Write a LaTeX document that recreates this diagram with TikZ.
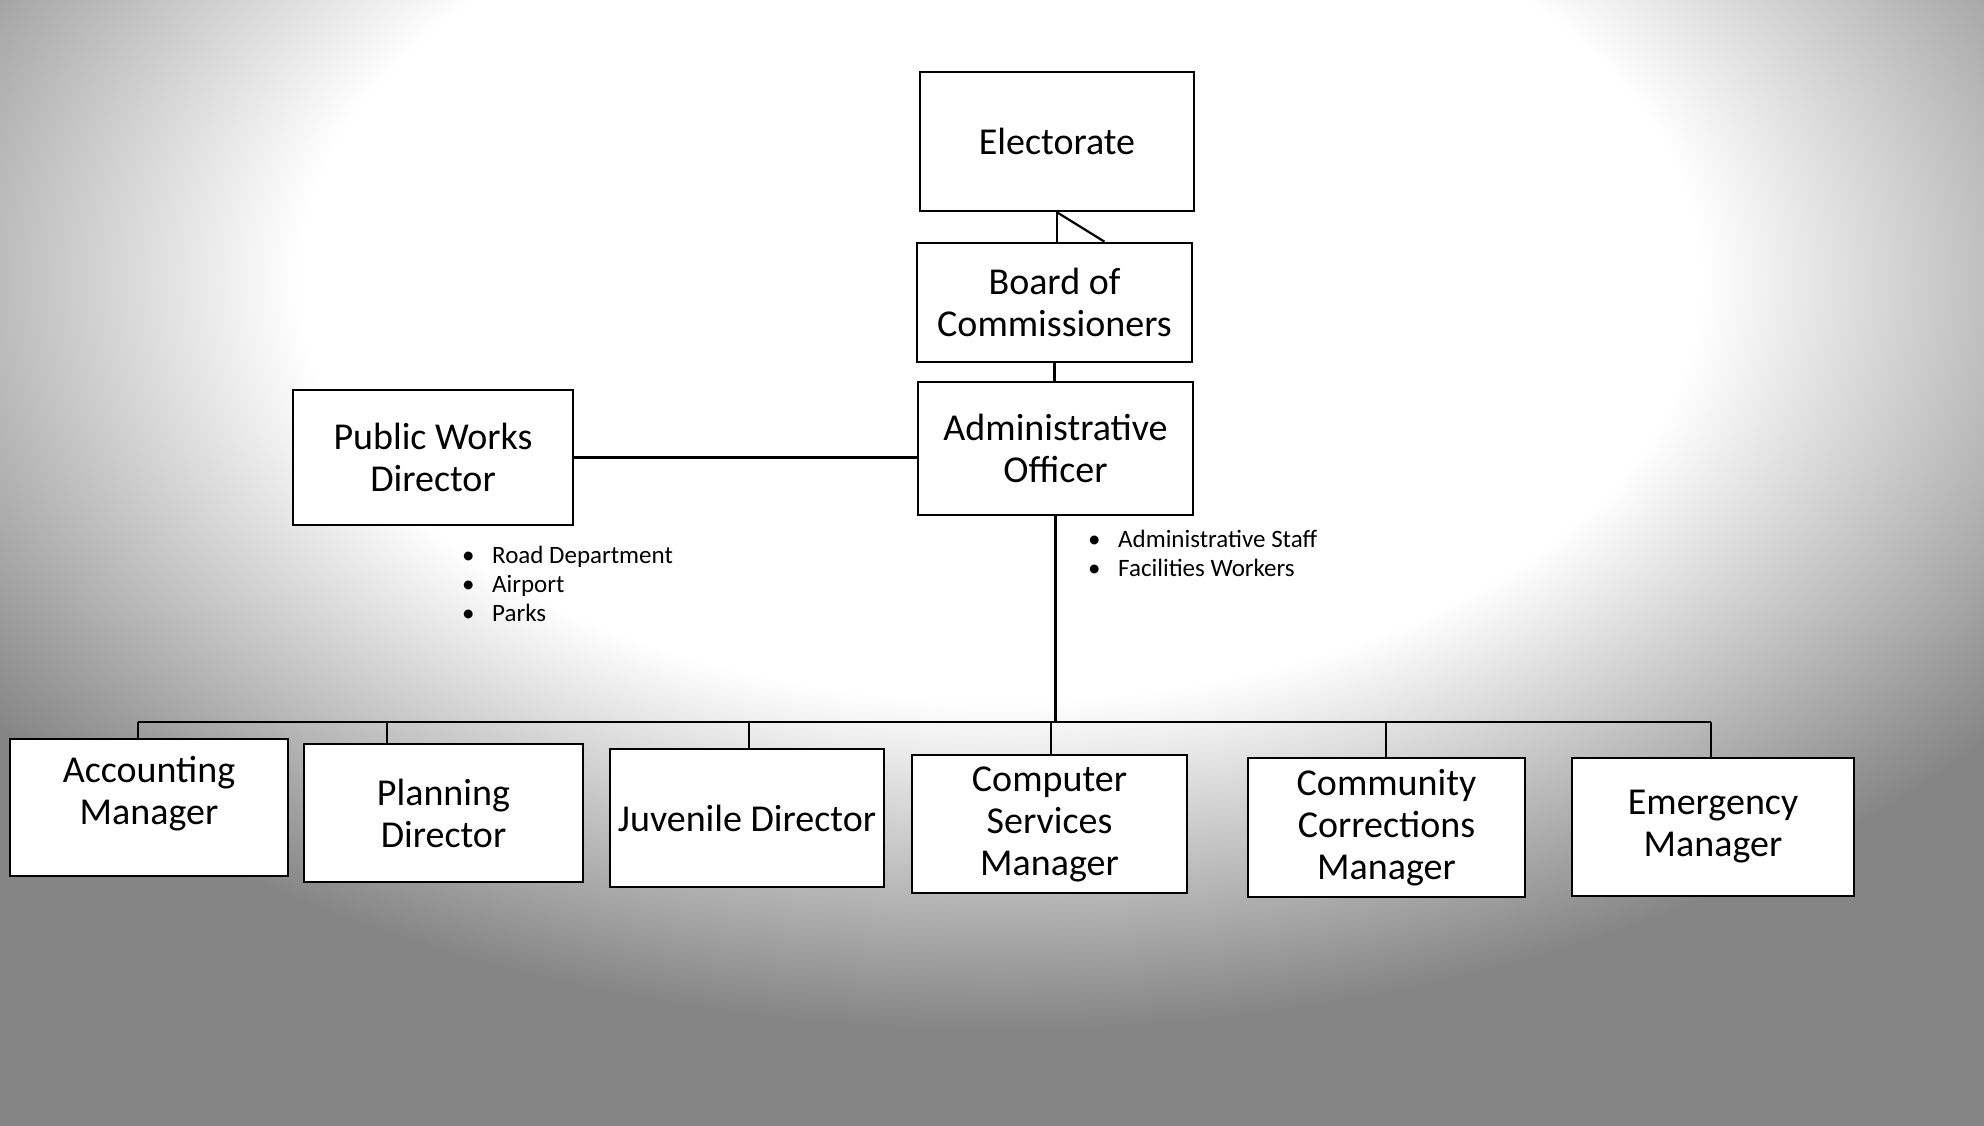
\documentclass[tikz,border=0pt]{standalone}
\usepackage{fontspec}
\setmainfont{Carlito}
\pgfdeclareradialshading{papershade}{\pgfpointorigin}{color(0bp)=(white); color(14bp)=(white); color(25bp)=(black!48); color(50bp)=(black!48)}
\begin{document}
\begin{tikzpicture}[x=1pt,y=-1pt,
  box/.style={draw=black, line width=2.6pt, fill=white, align=center, inner sep=2pt,
    font=\fontsize{38}{42}\selectfont},
  conn/.style={line width=2.2pt},
  blist/.style={anchor=north west, align=left, inner sep=0pt,
    font=\fontsize{25}{29}\selectfont}]
\useasboundingbox (0,0) rectangle (1984,1126);
% scanned-paper background
\begin{scope}
  \clip (0,0) rectangle (1984,1126);
  \fill[black!48] (0,0) rectangle (1984,1126);
  \shade[shading=papershade] (-250,-470) rectangle (2250,1030);
\end{scope}

% top chain
\node[box, minimum width=274pt, minimum height=139pt] (elect) at (1057,141.5) {Electorate};
\node[box, minimum width=275pt, minimum height=119pt] (board) at (1054.5,302.5) {Board of\\Commissioners};
\node[box, minimum width=275pt, minimum height=133pt] (admin) at (1055.5,448.5) {Administrative\\Officer};
\node[box, minimum width=280pt, minimum height=135pt] (pw) at (433,457.5) {Public Works\\Director};

% bottom row
\node[box, minimum width=278pt, minimum height=137pt] (acct) at (149,807.5) {};
\node[align=center, inner sep=0pt, font=\fontsize{38}{42}\selectfont] (accttext) at (149,794) {Accounting\\Manager};
\node[box, minimum width=279pt, minimum height=138pt] (plan) at (443.5,813) {Planning\\Director};
\node[box, minimum width=274pt, minimum height=138pt, inner xsep=0pt] (juv) at (747,818) {Juvenile Director};
\node[box, minimum width=275pt, minimum height=138pt] (comp) at (1049.5,824) {Computer\\Services\\Manager};
\node[box, minimum width=277pt, minimum height=139pt] (corr) at (1386.5,827.5) {Community\\Corrections\\Manager};
\node[box, minimum width=282pt, minimum height=138pt] (emer) at (1713,827) {Emergency\\Manager};

% bullet lists
\node[blist] (pwlist) at (462,546) {\makebox[30pt][l]{\textbullet}Road Department\\
  \makebox[30pt][l]{\textbullet}Airport\\
  \makebox[30pt][l]{\textbullet}Parks};
\node[blist] (adlist) at (1088,530) {\makebox[30pt][l]{\textbullet}Administrative Staff\\
  \makebox[30pt][l]{\textbullet}Facilities Workers};

% connectors
\coordinate (busL) at (138,722);
\coordinate (busR) at (1711,722);
\draw[conn] (elect.south) -- (elect.south |- board.north);
\draw[conn] (elect.south) -- ([xshift=50pt]board.north);
\draw[conn] (board.south) -- (board.south |- admin.north);
\draw[conn] (pw.east) -- (pw.east -| admin.west);
\draw[conn] (admin.south) -- (admin.south |- busL);
\draw[conn] (busL) -- (busR);
\foreach \n/\x in {acct/138, plan/387, juv/749, comp/1051, corr/1386, emer/1711}
  \draw[conn] (\x,722) -- (\x,0 |- \n.north);
\end{tikzpicture}
\end{document}
